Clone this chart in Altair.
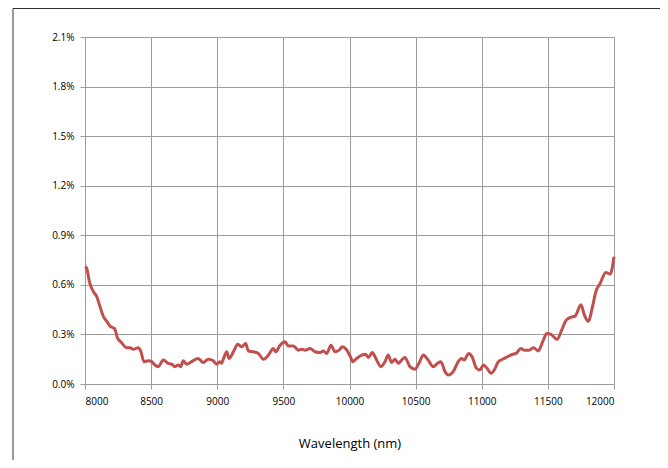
import altair as alt
import pandas as pd

wavelength = [8000, 8013, 8033, 8063, 8088, 8113, 8138, 8164, 8189, 8214, 8227, 8245, 8277, 8315,
              8340, 8365, 8403, 8421, 8446, 8479, 8504, 8529, 8554, 8592, 8630, 8655, 8680, 8705,
              8723, 8743, 8768, 8806, 8856, 8894, 8932, 8970, 8995, 9020, 9034, 9046, 9072, 9089,
              9122, 9155, 9185, 9215, 9235, 9273, 9311, 9349, 9387, 9425, 9442, 9475, 9513, 9538,
              9576, 9614, 9639, 9664, 9702, 9740, 9777, 9802, 9828, 9860, 9890, 9921, 9946, 9975,
              10004, 10025, 10054, 10092, 10122, 10142, 10172, 10205, 10238, 10268, 10293, 10318,
              10344, 10369, 10394, 10419, 10457, 10495, 10525, 10558, 10595, 10633, 10666, 10691,
              10722, 10747, 10784, 10822, 10847, 10867, 10902, 10927, 10960, 10985, 11014, 11040,
              11070, 11095, 11125, 11158, 11195, 11233, 11258, 11296, 11321, 11359, 11391, 11427,
              11460, 11493, 11523, 11569, 11604, 11637, 11675, 11705, 11750, 11775, 11805, 11838,
              11863, 11896, 11938, 11971, 12000]
value_pct = [0.71, 0.70, 0.62, 0.56, 0.53, 0.47, 0.41, 0.38, 0.35, 0.34, 0.33, 0.28, 0.25, 0.22,
             0.22, 0.21, 0.22, 0.20, 0.135, 0.14, 0.135, 0.115, 0.105, 0.145, 0.125, 0.12, 0.105, 0.115,
             0.105, 0.14, 0.12, 0.135, 0.155, 0.13, 0.15, 0.14, 0.12, 0.135, 0.125, 0.15, 0.195, 0.155,
             0.195, 0.24, 0.225, 0.245, 0.20, 0.195, 0.185, 0.15, 0.175, 0.215, 0.195, 0.235, 0.255, 0.23,
             0.23, 0.205, 0.21, 0.205, 0.215, 0.195, 0.19, 0.20, 0.185, 0.235, 0.195, 0.205, 0.225, 0.21,
             0.17, 0.135, 0.155, 0.175, 0.18, 0.16, 0.19, 0.145, 0.105, 0.135, 0.175, 0.13,
             0.15, 0.125, 0.145, 0.16, 0.105, 0.09, 0.125, 0.175, 0.145, 0.105, 0.125, 0.135,
             0.075, 0.055, 0.075, 0.135, 0.155, 0.145, 0.185, 0.165, 0.095, 0.085, 0.115, 0.095,
             0.065, 0.085, 0.135, 0.15, 0.165, 0.18, 0.185, 0.215, 0.205, 0.205, 0.22, 0.20,
             0.255, 0.305, 0.30, 0.27, 0.325, 0.385, 0.405, 0.41, 0.48, 0.42, 0.38, 0.47,
             0.56, 0.61, 0.675, 0.665, 0.77]

x_ticks = [8000, 8500, 9000, 9500, 10000, 10500, 11000, 11500, 12000]
y_ticks = [0.0, 0.003, 0.006, 0.009, 0.012, 0.015, 0.018, 0.021]

FONT = "Open Sans, Noto Sans, sans-serif"
GRID = "#9c9c9c"

df = pd.DataFrame({"wavelength": wavelength, "value": [v / 100 for v in value_pct]})

line = alt.Chart(df).mark_line(color="#c0504d", strokeWidth=3, interpolate="monotone").encode(
    x=alt.X("wavelength:Q", scale=alt.Scale(domain=[8000, 12000], nice=False, zero=False),
            axis=alt.Axis(values=x_ticks, title="Wavelength (nm)", format="d",
                          titlePadding=31, titleFontSize=13, titleFontWeight=500,
                          titleColor="#000000", labelPadding=7,
                          gridColor=GRID, domainColor=GRID, tickColor=GRID)),
    y=alt.Y("value:Q", scale=alt.Scale(domain=[0, 0.021], nice=False),
            axis=alt.Axis(values=y_ticks, format=".1%", title=None, labelPadding=6,
                          gridColor=GRID, domainColor=GRID, tickColor=GRID)),
)

frame = alt.Chart(pd.DataFrame({"a": [0]})).mark_rect(
    fill=None, fillOpacity=0, stroke="#333333", strokeWidth=1
).encode(
    x=alt.value(-72), x2=alt.value(576), y=alt.value(-28.5), y2=alt.value(440)
)

chart = alt.layer(frame, line).properties(
    width=529, height=347,
    padding={"left": 77, "top": 29, "right": 46, "bottom": 76},
    autosize=alt.AutoSizeParams(type="none"),
).configure_view(stroke=None).configure_axis(
    grid=True, gridWidth=1.3, gridOpacity=1, domainWidth=1.3, tickWidth=1.3, tickSize=5,
    labelFont=FONT, titleFont=FONT, labelFontSize=11, labelColor="#595959",
).configure(background="white", font=FONT)

chart.save("out.html", embed_options={"renderer": "svg", "actions": False})
